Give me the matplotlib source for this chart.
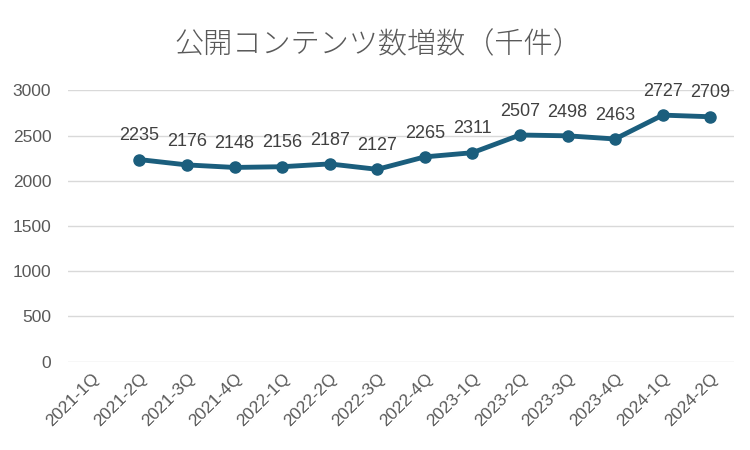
import matplotlib.pyplot as plt
import numpy as np

# quarters on the x axis (2021-1Q has no value)
quarters = ["2021-1Q", "2021-2Q", "2021-3Q", "2021-4Q", "2022-1Q", "2022-2Q",
            "2022-3Q", "2022-4Q", "2023-1Q", "2023-2Q", "2023-3Q", "2023-4Q",
            "2024-1Q", "2024-2Q"]
values = [None, 2235, 2176, 2148, 2156, 2187, 2127, 2265, 2311,
          2507, 2498, 2463, 2727, 2709]
y_ticks = [0, 500, 1000, 1500, 2000, 2500, 3000]
title = "公開コンテンツ数増数（千件）"

line_color = "#1b5e7d"
text_color = "#595959"
grid_color = "#d9d9d9"

plt.rcParams["font.family"] = ["Liberation Sans", "Noto Sans CJK JP", "DejaVu Sans"]

fig = plt.figure(figsize=(7.5, 4.5), dpi=100)
ax = fig.add_axes([68 / 750, 1 - 362 / 450, (734 - 68) / 750, (362 - 90) / 450])

x = np.arange(len(quarters))
xs = [i for i, v in zip(x, values) if v is not None]
ys = [v for v in values if v is not None]

ax.plot(xs, ys, color=line_color, lw=3.5, marker="o", ms=8,
        solid_capstyle="round", zorder=3)
for xi, yi in zip(xs, ys):
    ax.annotate(str(yi), (xi, yi), xytext=(0, 11), textcoords="offset points",
                ha="center", va="bottom", fontsize=13, color="#404040")

ax.set_xlim(-0.5, len(quarters) - 0.5)
ax.set_ylim(-5, 3005)
ax.set_yticks(y_ticks)
ax.set_xticks(x)
ax.set_xticklabels(quarters, rotation=45, ha="right", va="top",
                   rotation_mode="anchor", fontsize=12.5, color=text_color)
ax.tick_params(axis="y", labelsize=12.5, labelcolor=text_color, length=0, pad=12)
ax.tick_params(axis="x", length=0, pad=6)

ax.grid(axis="y", color=grid_color, lw=1)
ax.set_axisbelow(True)
for s in ax.spines.values():
    s.set_visible(False)

fig.text(0.505, 1 - 45 / 450, title, ha="center", va="center", fontsize=21,
         color=text_color, family=["Noto Sans CJK JP", "DejaVu Sans"],
         fontweight="light")

fig.savefig("out.png", dpi=100)
